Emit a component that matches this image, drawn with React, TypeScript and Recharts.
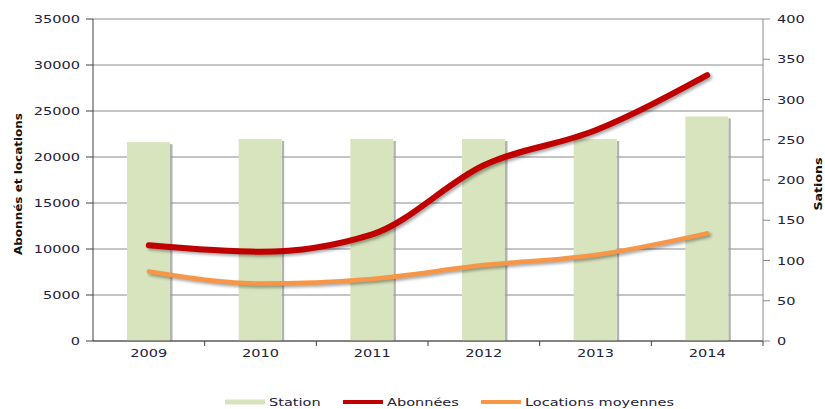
import React from 'react';
import { ComposedChart, Bar, Line, XAxis, YAxis, CartesianGrid, Legend } from 'recharts';

const years = ['2009', '2010', '2011', '2012', '2013', '2014'];
const stations = [247, 251, 251, 251, 251, 279];
const abonnees = [10400, 9700, 11600, 19100, 22900, 28900];
const locations = [7550, 6250, 6750, 8250, 9350, 11700];
const leftTicks = [0, 5000, 10000, 15000, 20000, 25000, 30000, 35000];
const rightTicks = [0, 50, 100, 150, 200, 250, 300, 350, 400];

const data = years.map((y, i) => ({
  year: y,
  station: stations[i],
  abonnees: abonnees[i],
  locations: locations[i],
}));

const FONT = 'DejaVu Sans';
const STRETCH = 1.32;
let ctx: CanvasRenderingContext2D | null = null;
function measure(text: string, size: number, bold = false): number {
  if (!ctx) {
    const c = document.createElement('canvas');
    ctx = c.getContext('2d');
  }
  if (!ctx) return text.length * size * 0.6;
  ctx.font = `${bold ? 'bold ' : ''}${size}px "${FONT}"`;
  return ctx.measureText(text).width;
}

const TEXT = '#22223a';

const LeftTick = (props: any) => {
  const { x, y, payload } = props;
  const s = String(payload.value);
  return (
    <text x={x} y={y} dy={4} textAnchor="end" fontSize={11} fontFamily={FONT} fill={TEXT}
      textLength={measure(s, 11) * STRETCH} lengthAdjust="spacingAndGlyphs">{s}</text>
  );
};

const RightTick = (props: any) => {
  const { x, y, payload } = props;
  const s = String(payload.value);
  return (
    <text x={x} y={y} dy={4} textAnchor="start" fontSize={11} fontFamily={FONT} fill={TEXT}
      textLength={measure(s, 11) * STRETCH} lengthAdjust="spacingAndGlyphs">{s}</text>
  );
};

const XTick = (props: any) => {
  const { x, y, payload, width } = props;
  const s = String(payload.value);
  const band = width / years.length;
  return (
    <g>
      <line x1={x + band / 2} x2={x + band / 2} y1={y} y2={y + 5} stroke="#404040" strokeWidth={1} />
      <text x={x} y={y} dy={16} textAnchor="middle" fontSize={11} fontFamily={FONT} fill={TEXT}
        textLength={measure(s, 11) * STRETCH} lengthAdjust="spacingAndGlyphs">{s}</text>
    </g>
  );
};

const LeftLabel = (props: any) => {
  const { viewBox } = props;
  const t = 'Abonnés et locations';
  const cx = viewBox.x + 18;
  const cy = viewBox.y + viewBox.height / 2 + 4;
  return (
    <text x={cx} y={cy} transform={`rotate(-90 ${cx} ${cy})`} textAnchor="middle" dominantBaseline="central"
      fontSize={11} fontWeight="bold" fontFamily={FONT} fill="#111"
      textLength={142} lengthAdjust="spacingAndGlyphs">{t}</text>
  );
};

const RightLabel = (props: any) => {
  const { viewBox } = props;
  const t = 'Sations';
  const cx = viewBox.x + viewBox.width - 7;
  const cy = viewBox.y + viewBox.height / 2 + 4;
  return (
    <text x={cx} y={cy} transform={`rotate(-90 ${cx} ${cy})`} textAnchor="middle" dominantBaseline="central"
      fontSize={11} fontWeight="bold" fontFamily={FONT} fill="#111"
      textLength={53} lengthAdjust="spacingAndGlyphs">{t}</text>
  );
};

const BarShape = (props: any) => {
  const { x, y, width, height, fill } = props;
  if (height <= 0) return null;
  return (
    <g>
      <rect x={x + width} y={y + 2} width={2.5} height={height - 2} fill="#9a9a9a" opacity={0.75} />
      <rect x={x} y={y} width={width} height={height} fill={fill} />
    </g>
  );
};

const legendItems = [
  { label: 'Station', color: '#D7E4BD', w: 5 },
  { label: 'Abonnées', color: '#C00000', w: 4 },
  { label: 'Locations moyennes', color: '#F79646', w: 4 },
];

const LegendContent = () => (
  <div style={{ display: 'flex', justifyContent: 'center', height: 24, paddingLeft: 96, boxSizing: 'border-box' }}>
    {legendItems.map((it) => {
      const tw = measure(it.label, 11) * STRETCH;
      return (
        <svg key={it.label} width={40 + 4 + tw + 22} height={24} style={{ display: 'block' }}>
          <line x1={0} x2={40} y1={17} y2={17} stroke={it.color} strokeWidth={it.w} />
          <text x={44} y={21} fontSize={11} fontFamily={FONT} fill={TEXT}
            textLength={tw} lengthAdjust="spacingAndGlyphs">{it.label}</text>
        </svg>
      );
    })}
  </div>
);

export default function App() {
  return (
    <div style={{ position: 'absolute', left: 0, top: 0, width: 825, height: 409, background: '#fff' }}>
      <style>{`.shadowed path { filter: drop-shadow(2px 2px 1.5px rgba(0,0,0,0.35)); }`}</style>
      <ComposedChart width={825} height={409} data={data} margin={{ top: 19, right: 0, bottom: 0, left: 0 }}
        barCategoryGap="31%">
        <CartesianGrid yAxisId="left" horizontal vertical={false} stroke="#8a8a8a" />
        <XAxis dataKey="year" height={44} tickSize={0} tickMargin={0} axisLine={{ stroke: '#404040' }}
          tickLine={false} tick={<XTick width={670} />} interval={0} />
        <YAxis yAxisId="left" orientation="left" width={93} domain={[0, 35000]} ticks={leftTicks}
          axisLine={{ stroke: '#404040' }} tickLine={{ stroke: '#404040' }} tickSize={7} tickMargin={6}
          tick={<LeftTick />} label={<LeftLabel />} />
        <YAxis yAxisId="right" orientation="right" width={62} domain={[0, 400]} ticks={rightTicks}
          axisLine={{ stroke: '#8a8a8a' }} tickLine={{ stroke: '#8a8a8a' }} tickSize={7} tickMargin={7}
          tick={<RightTick />} label={<RightLabel />} />
        <Bar yAxisId="right" dataKey="station" name="Station" fill="#D7E4BD" barSize={43}
          shape={<BarShape />} isAnimationActive={false} />
        <Line yAxisId="left" type="monotone" dataKey="abonnees" name="Abonnées" stroke="#C00000"
          strokeWidth={6} dot={false} strokeLinecap="round" className="shadowed" isAnimationActive={false} />
        <Line yAxisId="left" type="monotone" dataKey="locations" name="Locations moyennes" stroke="#F79646"
          strokeWidth={4.5} dot={false} strokeLinecap="round" className="shadowed" isAnimationActive={false} />
        <Legend verticalAlign="bottom" content={<LegendContent />} />
      </ComposedChart>
    </div>
  );
}
